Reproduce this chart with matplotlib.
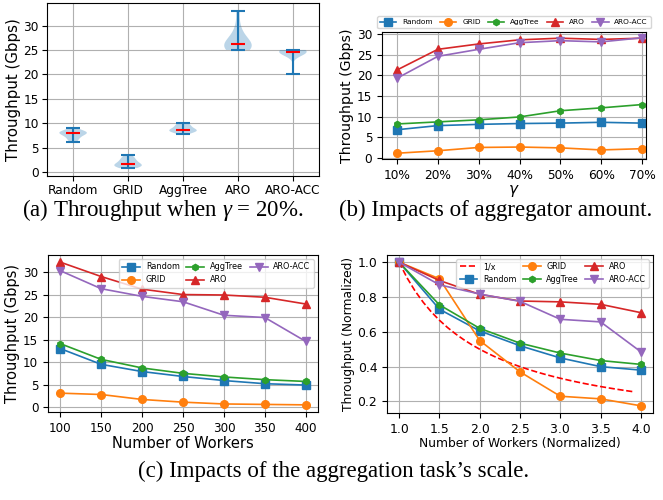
import numpy as np
import matplotlib
matplotlib.use("Agg")
import matplotlib.pyplot as plt

plt.rcParams["mathtext.fontset"] = "custom"
plt.rcParams["mathtext.rm"] = "Liberation Serif"
plt.rcParams["mathtext.it"] = "Liberation Serif:italic"

# ---------------- data ----------------
methods = ["Random", "GRID", "AggTree", "ARO", "ARO-ACC"]

# (a) throughput samples at gamma = 20%
violin_random = [6.2, 6.6, 7.0, 7.3, 7.6, 7.8, 7.9, 8.1, 8.2, 8.2, 8.3, 8.4, 9.1]
violin_grid = [0.8, 1.1, 1.2, 1.3, 1.3, 1.4, 1.7, 1.9, 2.1, 2.4, 2.7, 3.0, 3.4]
violin_aggtree = [7.7, 8.1, 8.3, 8.4, 8.4, 8.5, 8.7, 8.8, 9.0, 9.3, 9.5, 9.8, 10.0]
violin_aro = [25.0, 25.2, 25.3, 25.4, 25.5, 25.6, 26.3, 26.5, 27.0, 27.6, 28.2, 30.0, 33.0]
violin_aroacc = [20.0, 23.8, 24.2, 24.4, 24.5, 24.6, 24.6, 24.7, 24.8, 24.8, 24.9, 25.0, 25.0]

# (b) impact of aggregator amount
gamma_labels = ["10%", "20%", "30%", "40%", "50%", "60%", "70%"]
b_random = [6.8, 7.8, 8.1, 8.3, 8.4, 8.6, 8.4]
b_grid = [1.1, 1.7, 2.5, 2.6, 2.4, 1.9, 2.2]
b_aggtree = [8.2, 8.7, 9.2, 9.9, 11.4, 12.1, 12.9]
b_aro = [21.3, 26.3, 27.6, 28.6, 29.0, 28.7, 29.0]
b_aroacc = [19.3, 24.6, 26.3, 27.9, 28.4, 28.1, 29.1]

# (c) left: number of workers
workers = [100, 150, 200, 250, 300, 350, 400]
c_random = [13.0, 9.5, 7.9, 6.8, 5.9, 5.2, 4.9]
c_grid = [3.1, 2.8, 1.7, 1.1, 0.7, 0.6, 0.5]
c_aggtree = [14.1, 10.6, 8.7, 7.5, 6.7, 6.1, 5.7]
c_aro = [32.2, 29.0, 26.2, 25.0, 24.9, 24.4, 22.9]
c_aroacc = [30.3, 26.3, 24.6, 23.4, 20.4, 19.9, 14.6]

# (c) right: normalized
workers_norm = [1.0, 1.5, 2.0, 2.5, 3.0, 3.5, 4.0]
d_random = [1.0, 0.73, 0.605, 0.52, 0.45, 0.40, 0.38]
d_grid = [1.0, 0.905, 0.55, 0.37, 0.23, 0.215, 0.175]
d_aggtree = [1.0, 0.755, 0.62, 0.535, 0.478, 0.435, 0.413]
d_aro = [1.0, 0.895, 0.815, 0.777, 0.772, 0.758, 0.71]
d_aroacc = [1.0, 0.87, 0.817, 0.775, 0.672, 0.657, 0.485]
ref_x = np.arange(1.0, 3.95, 0.1)

gbps_ticks = [0, 5, 10, 15, 20, 25, 30]

markers = ["s", "o", "h", "^", "v"]
colors = ["C0", "C1", "C2", "C3", "C4"]
msizes = [5.5, 5.5, 4.5, 5.5, 5.5]

W, H = 663, 500
fig = plt.figure(figsize=(W / 100, H / 100), dpi=100)


def axes_px(left, right, top, bottom):
    return fig.add_axes([left / W, 1 - bottom / H, (right - left) / W, (bottom - top) / H])


# ---------------- (a) ----------------
ax = axes_px(47, 319, 3, 176)
vp = ax.violinplot([violin_random, violin_grid, violin_aggtree, violin_aro, violin_aroacc],
                   showmedians=True)
vp["cmedians"].set_color("red")
ax.set_xticks(range(1, 6))
ax.set_xticklabels(methods)
ax.set_yticks(gbps_ticks)
ax.set_ylabel("Throughput (Gbps)", fontsize=10.8, labelpad=2)
ax.tick_params(labelsize=8.7, pad=2.5)
ax.grid(True)
ax.set_axisbelow(True)

# ---------------- (b) ----------------
ax = axes_px(382, 646, 32, 159)
xb = np.arange(len(gamma_labels))
for ser, m, c, lab, ms in zip([b_random, b_grid, b_aggtree, b_aro, b_aroacc], markers, colors, methods, msizes):
    ax.plot(xb, ser, marker=m, color=c, label=lab, markersize=ms, linewidth=1.2)
ax.set_xticks(xb)
ax.set_xticklabels(gamma_labels)
ax.set_xlim(-0.37, 6.1)
ax.set_yticks(gbps_ticks)
ax.set_ylabel("Throughput (Gbps)", fontsize=10.2, labelpad=2)
ax.set_xlabel(r"$\gamma$", fontsize=11, labelpad=1, math_fontfamily="dejavusans")
ax.tick_params(labelsize=8.7)
ax.grid(True)
ax.legend(ncol=5, fontsize=5.3, loc="lower center", bbox_to_anchor=(0.5, 1.0),
          handlelength=2.2, columnspacing=1.0, handletextpad=0.8, borderpad=0.4)

# ---------------- (c) left ----------------
ax = axes_px(48, 318, 255, 412)
for ser, m, c, lab, ms in zip([c_random, c_grid, c_aggtree, c_aro, c_aroacc], markers, colors, methods, msizes):
    ax.plot(workers, ser, marker=m, color=c, label=lab, markersize=ms, linewidth=1.2)
ax.set_xticks(workers)
ax.set_yticks(gbps_ticks)
ax.set_ylabel("Throughput (Gbps)", fontsize=10.5, labelpad=2)
ax.set_xlabel("Number of Workers", fontsize=10.5, labelpad=1)
ax.tick_params(labelsize=8.6)
ax.grid(True)
ax.legend(ncol=3, fontsize=5.9, loc="upper right", handlelength=2.2,
          columnspacing=0.8, handletextpad=0.7, borderpad=0.4, labelspacing=0.5)

# ---------------- (c) right ----------------
ax = axes_px(387, 653, 255, 413)
ax.plot(ref_x, 1 / ref_x, "--", color="red", linewidth=1.2, label="1/x")
for ser, m, c, lab, ms in zip([d_random, d_grid, d_aggtree, d_aro, d_aroacc], markers, colors, methods, msizes):
    ax.plot(workers_norm, ser, marker=m, color=c, label=lab, markersize=ms, linewidth=1.2)
ax.set_xticks(workers_norm)
ax.set_ylabel("Throughput (Normalized)", fontsize=8.8, labelpad=2)
ax.set_xlabel("Number of Workers (Normalized)", fontsize=8.8, labelpad=1)
ax.tick_params(labelsize=8.9)
ax.grid(True)
ax.legend(ncol=3, fontsize=5.8, loc="upper right", handlelength=2.2,
          columnspacing=0.8, handletextpad=0.7, borderpad=0.4, labelspacing=0.5)

# ---------------- captions ----------------
cap = dict(family="Liberation Serif", fontsize=16.5, ha="center", va="baseline")
fig.text(163 / W, 1 - 216 / H, r"(a) Throughput when $\gamma$ = 20%.", **cap)
fig.text(496 / W, 1 - 216 / H, "(b) Impacts of aggregator amount.", **cap)
fig.text(334 / W, 1 - 477 / H, "(c) Impacts of the aggregation task\u2019s scale.", **cap)

fig.savefig("out.png", dpi=100)
